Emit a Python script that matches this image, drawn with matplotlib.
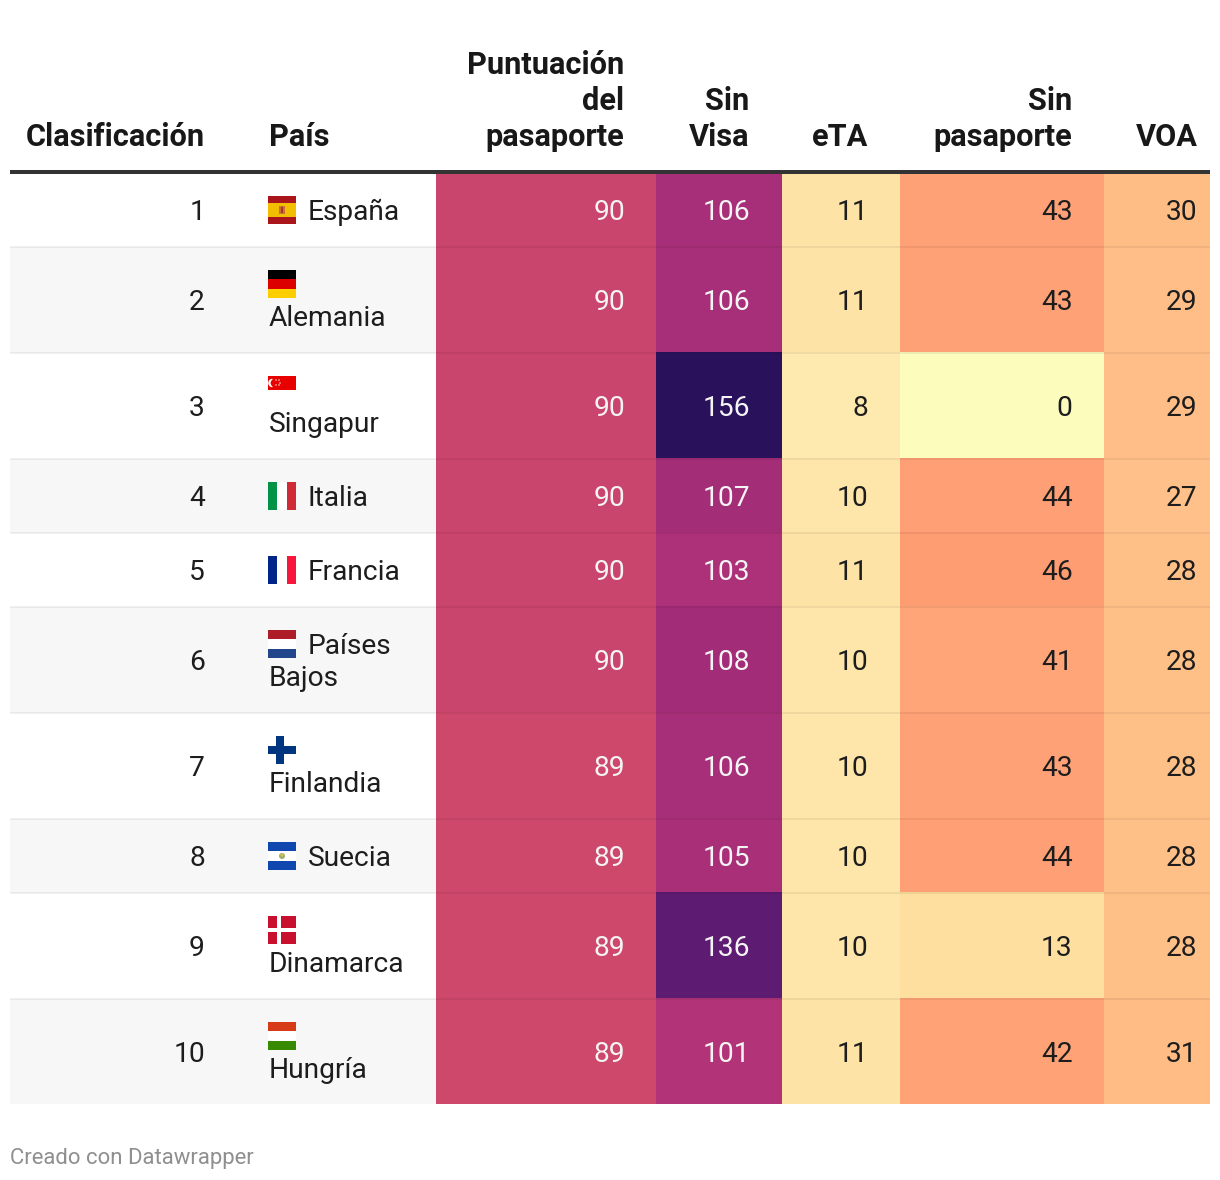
import matplotlib
matplotlib.use("Agg")
import matplotlib.pyplot as plt
from matplotlib.patches import Rectangle, Circle, Wedge
from matplotlib.colors import LinearSegmentedColormap, Normalize

ranks = [1, 2, 3, 4, 5, 6, 7, 8, 9, 10]
score = [90, 90, 90, 90, 90, 90, 89, 89, 89, 89]
no_visa = [106, 106, 156, 107, 103, 108, 106, 105, 136, 101]
eta = [11, 11, 8, 10, 11, 10, 10, 10, 10, 11]
no_passport = [43, 43, 0, 44, 46, 41, 43, 44, 13, 42]
voa = [30, 29, 29, 27, 28, 28, 28, 28, 28, 31]
countries = ["España", "Alemania", "Singapur", "Italia", "Francia",
             "Países\nBajos", "Finlandia", "Suecia", "Dinamarca", "Hungría"]
headers = ["Clasificación", "País", "Puntuación\ndel\npasaporte", "Sin\nVisa", "eTA", "Sin\npasaporte", "VOA"]

# colour scale shared by every numeric column
anchors = [(0, "#FCFCBD"), (8, "#FEE9AE"), (13, "#FEDFA0"), (26, "#FFC28A"), (31, "#FFBC85"), (43, "#FFA176"),
           (46, "#FE9C72"), (89, "#CE486C"), (90, "#CA456E"), (101, "#B23378"), (108, "#A22C78"),
           (136, "#5E1B72"), (156, "#2A115C")]
norm = Normalize(0, 156)
cmap = LinearSegmentedColormap.from_list("cells", [(v / 156, c) for v, c in anchors], N=1024)

plt.rcParams["font.family"] = ["Roboto", "DejaVu Sans"]
W, H = 1220, 1180
fig = plt.figure(figsize=(W / 100, H / 100), dpi=100, facecolor="white")
ax = fig.add_axes([0, 0, 1, 1])
ax.set_xlim(0, W)
ax.set_ylim(H, 0)
ax.axis("off")

px = 100 / 72
FS = 28.1 / px
HFS = 30.8 / px
TXT = "#1d1d1d"
row_edges = [174, 247, 353, 459, 533, 607, 713, 819, 893, 999, 1104]
col_edges = [436, 656, 782, 900, 1104, 1210]
right_x = [625, 750, 868.5, 1072.5, 1197.5]
flag_top = [196, 270, 376, 482, 556, 630, 736, 842, 916, 1022]
name_base = [220, 326, 432, 506, 580, 654, 792, 866, 972, 1078]
inline = [True, False, False, True, True, True, False, True, False, False]


def rect(x0, y0, x1, y1, c, z=1, **kw):
    ax.add_patch(Rectangle((x0, y0), x1 - x0, y1 - y0, fc=c, ec="none", lw=0, zorder=z, **kw))


# rows
for i in range(10):
    y0, y1 = row_edges[i], row_edges[i + 1]
    if i % 2 == 1:
        rect(10, y0, 436, y1, "#F7F7F7")
    for j, col in enumerate([score, no_visa, eta, no_passport, voa]):
        v = col[i]
        rect(col_edges[j], y0 - (1 if i else 0), col_edges[j + 1], y1 - (1 if i < 9 else 0), cmap(norm(v)), 2)
        ax.text(right_x[j], y1 - (y1 - y0) / 2 + 10, str(v), ha="right", va="baseline", fontsize=FS,
                color="#F4F4F4" if v >= 89 else TXT, zorder=6)
    ax.text(205, (y0 + y1) / 2 + 10, str(ranks[i]), ha="right", va="baseline", fontsize=FS, color=TXT, zorder=6)
    parts = countries[i].split("\n")
    ax.text(308 if inline[i] else 269, name_base[i], parts[0], ha="left", va="baseline", fontsize=FS, color=TXT, zorder=6)
    if len(parts) > 1:
        ax.text(269, name_base[i] + 32, parts[1], ha="left", va="baseline", fontsize=FS, color=TXT, zorder=6)
    if i < 9:
        rect(10, y1 - 1, 1210, y1 + 1, "black", 4, alpha=0.06)

# header
for s, x, ha in zip(headers, [204.5, 269, 624.5, 749.5, 868.5, 1072.5, 1197.5],
                    ["right", "left", "right", "right", "right", "right", "right"]):
    lines = s.split("\n")
    for k, line in enumerate(lines):
        ax.text(x, 146 - 36 * (len(lines) - 1 - k), line, ha=ha, va="baseline", fontsize=HFS,
                fontweight="bold", color="#181818")
rect(10, 170, 1210, 174, "#333333", 5)

# flags
FX0, FX1 = 268, 296


def hstripes(top, stripes):
    y = top
    for h, c in stripes:
        rect(FX0, y, FX1, y + h, c, 5)
        y += h


def vstripes(top, cs):
    w = 28 / 3
    for k, c in enumerate(cs):
        rect(FX0 + k * w, top, FX0 + (k + 1) * w, top + 28, c, 5)


hstripes(flag_top[0], [(7, "#AA151B"), (14, "#F1BF00"), (7, "#AA151B")])
rect(279, 206, 285, 214, "#C8703A", 6)
rect(281, 207, 283, 213, "#B0332A", 7)
hstripes(flag_top[1], [(9.33, "#000000"), (9.33, "#DD0000"), (9.34, "#FFCE00")])
hstripes(flag_top[2], [(14, "#E80000")])
ax.add_patch(Wedge((272.5, 383), 4.3, 90, 270, fc="white", ec="none", zorder=6))
ax.add_patch(Circle((274.3, 383), 3.7, fc="#E80000", ec="none", zorder=7))
for dx, dy in [(276, 380), (279, 380), (280, 383), (276, 385), (279, 385)]:
    ax.add_patch(Circle((dx, dy), 0.7, fc="white", ec="none", zorder=7))
vstripes(flag_top[3], ["#009246", "#FFFFFF", "#CE2B37"])
vstripes(flag_top[4], ["#002488", "#FFFFFF", "#F8173A"])
hstripes(flag_top[5], [(9.33, "#AE1C28"), (9.33, "#FFFFFF"), (9.34, "#21468B")])
# Finland
t = flag_top[6]
rect(FX0, t + 10, FX1, t + 18, "#003580", 5)
rect(276, t, 284, t + 28, "#003580", 5)
# Suecia row flag, as drawn in the chart
hstripes(flag_top[7], [(9.33, "#0F47AF"), (9.33, "#FFFFFF"), (9.34, "#0F47AF")])
ax.add_patch(Circle((282, 856), 3, fc="#9DAE6A", ec="none", zorder=6))
ax.add_patch(Circle((282, 855), 1.5, fc="#D8C24A", ec="none", zorder=7))
# Denmark
t = flag_top[8]
rect(FX0, t, FX1, t + 28, "#C8102E", 5)
rect(FX0, t + 12, FX1, t + 16, "#FFFFFF", 6)
rect(277, t, 281, t + 28, "#FFFFFF", 6)
hstripes(flag_top[9], [(9.33, "#D73A17"), (9.33, "#FFFFFF"), (9.34, "#388A00")])

ax.text(10, 1164, "Creado con Datawrapper", ha="left", va="baseline", fontsize=22.1 / px, color="#8F8F8F")

fig.savefig("out.png", dpi=100, facecolor="white")
